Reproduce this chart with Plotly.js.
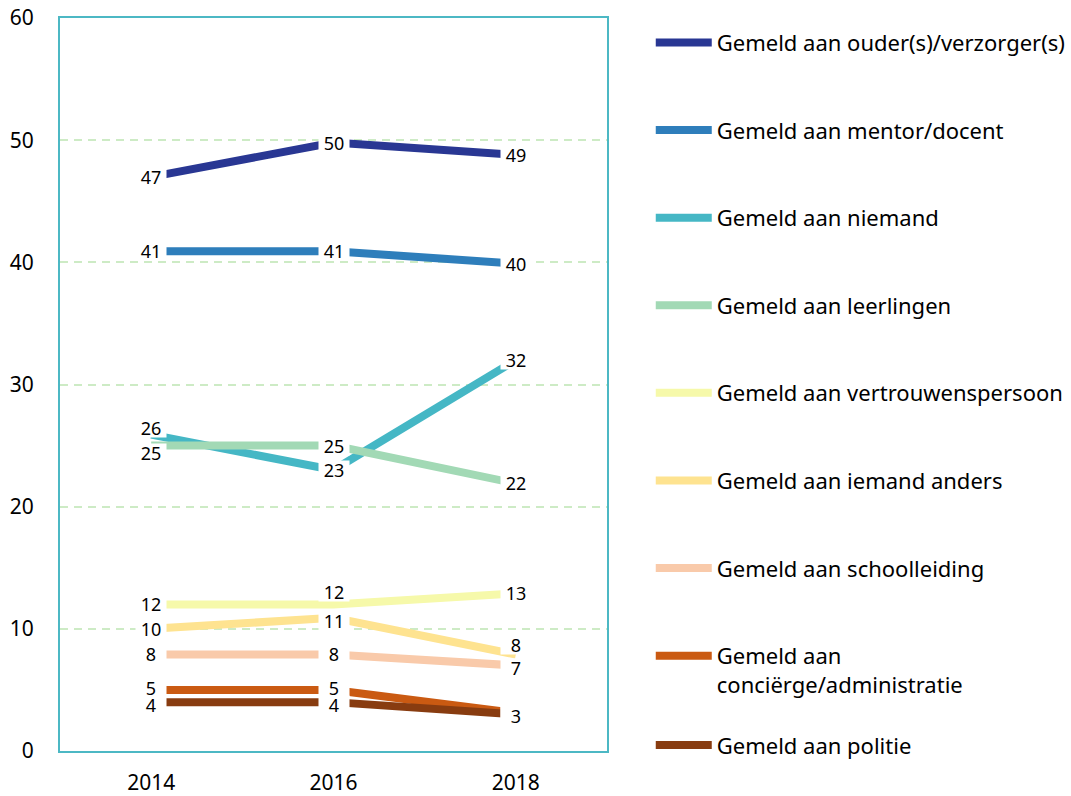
<!DOCTYPE html>
<html>
<head>
<meta charset="utf-8">
<script src="https://cdn.plot.ly/plotly-3.0.1.min.js"></script>
<style>html,body{margin:0;padding:0;background:#fff;}#chart{width:1071px;height:796px;}</style>
</head>
<body>
<div id="chart"></div>
<script>
// ---- data ----
const years = ['2014', '2016', '2018'];
const seriesNames = [
  'Gemeld aan ouder(s)/verzorger(s)',
  'Gemeld aan mentor/docent',
  'Gemeld aan niemand',
  'Gemeld aan leerlingen',
  'Gemeld aan vertrouwenspersoon',
  'Gemeld aan iemand anders',
  'Gemeld aan schoolleiding',
  'Gemeld aan<br>conciërge/administratie',
  'Gemeld aan politie'
];
const ouder = [47.0, 49.8, 48.8];
const mentor = [40.9, 40.9, 39.9];
const niemand = [25.9, 23.0, 32.0];
const leerlingen = [25.0, 25.0, 21.9];
const vertrouwenspersoon = [12.0, 12.0, 12.9];
const iemandAnders = [10.0, 10.9, 7.9];
const schoolleiding = [7.9, 7.9, 7.0];
const concierge = [5.0, 5.0, 3.1];
const politie = [4.0, 4.0, 3.0];
const yTicks = [0, 10, 20, 30, 40, 50, 60];

const seriesValues = [ouder, mentor, niemand, leerlingen, vertrouwenspersoon,
  iemandAnders, schoolleiding, concierge, politie];
const colors = ['#293793', '#2E7EBB', '#45B7C5', '#A2D9B5', '#F6F9AA',
  '#FEE390', '#F9CAAA', '#CA5A12', '#883C10'];

// label nudges (px, up positive) to avoid overlapping labels
const labelShift = {2: {0: 7}, 3: {0: -7}, 4: {1: 12}, 5: {1: -3, 2: 9}, 6: {2: -3},
  7: {0: 2, 1: 2, 2: -2}, 8: {0: -3, 1: -3, 2: -2}};

const traces = seriesValues.map((vals, i) => ({
  type: 'scatter',
  mode: 'lines',
  x: years,
  y: vals,
  name: seriesNames[i],
  legendgroup: 'g' + i,
  legend: i === 8 ? 'legend2' : 'legend',
  line: {color: colors[i], width: 8},
  hoverinfo: 'x+y+name'
}));

// annotations on a category axis: use the category index (numeric-looking
// category names would otherwise be read as serial numbers)
const annotations = [];
seriesValues.forEach((vals, i) => {
  vals.forEach((v, j) => {
    annotations.push({
      x: j, y: v, xref: 'x', yref: 'y',
      text: String(Math.round(v)),
      showarrow: false,
      bgcolor: '#ffffff',
      borderpad: 0,
      height: 18,
      width: 30,
      yshift: (labelShift[i] && labelShift[i][j]) || 0,
      font: {family: 'Noto Sans, sans-serif', size: 18, color: '#000'}
    });
  });
});

const legendFont = {family: 'Noto Sans, sans-serif', size: 22, color: '#000'};

const layout = {
  width: 1071, height: 796,
  margin: {l: 60, r: 464, t: 18, b: 45, autoexpand: false},
  paper_bgcolor: '#fff', plot_bgcolor: '#fff',
  showlegend: true,
  xaxis: {
    type: 'category', range: [-0.5, 2.5],
    showgrid: false, zeroline: false,
    showline: true, mirror: true, linecolor: '#4CB8C4', linewidth: 2,
    ticks: '', ticklabelstandoff: 12,
    tickfont: {family: 'Noto Sans, sans-serif', size: 21, color: '#000'}
  },
  yaxis: {
    range: [0, 60], tickvals: yTicks,
    showgrid: true, gridcolor: '#CDEBC5', gridwidth: 2, griddash: '8px,6px',
    zeroline: false,
    showline: true, mirror: true, linecolor: '#4CB8C4', linewidth: 2,
    ticks: '', ticklabelstandoff: 20,
    tickfont: {family: 'Noto Sans, sans-serif', size: 21, color: '#000'}
  },
  legend: {
    x: 1.08, xanchor: 'left', y: 0.995, yanchor: 'top',
    traceorder: 'grouped', tracegroupgap: 56, valign: 'top',
    itemwidth: 56, font: legendFont, bgcolor: 'rgba(0,0,0,0)'
  },
  legend2: {
    x: 1.08, xanchor: 'left', y: 0.008, yanchor: 'middle',
    itemwidth: 56, font: legendFont, bgcolor: 'rgba(0,0,0,0)'
  },
  annotations: annotations
};

Plotly.newPlot('chart', traces, layout, {displayModeBar: false, responsive: false});
</script>
</body>
</html>
